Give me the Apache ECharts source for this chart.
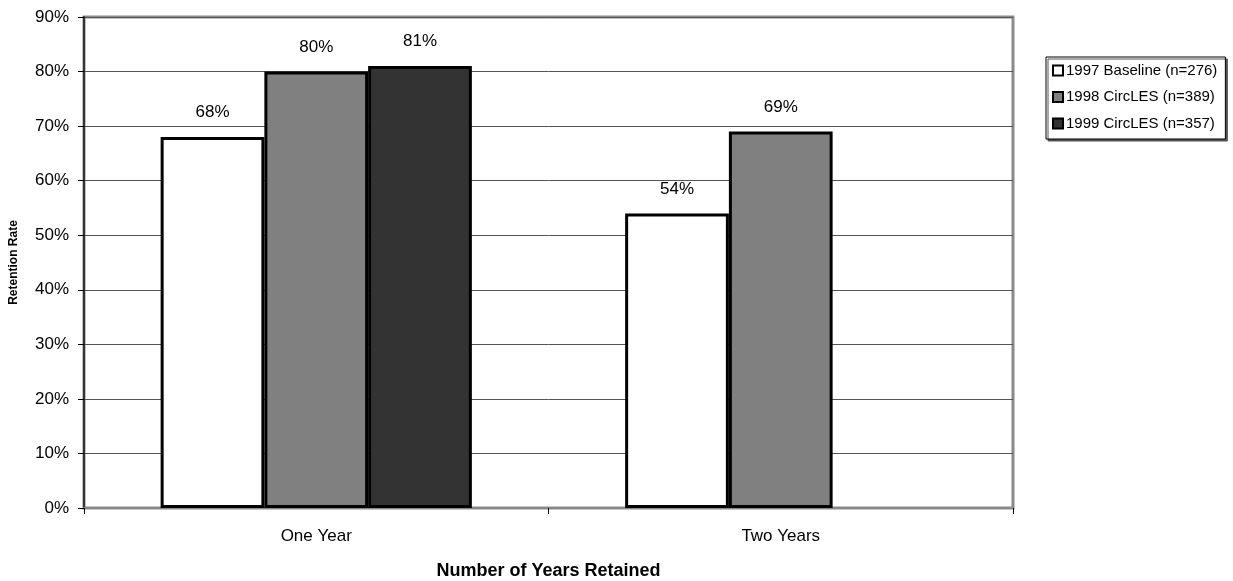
<!DOCTYPE html>
<html>
<head>
<meta charset="utf-8">
<script src="https://cdn.jsdelivr.net/npm/echarts@6/dist/echarts.min.js"></script>
<style>
  html, body { margin: 0; padding: 0; background: #fff; }
  #chart { width: 1233px; height: 581px; }
</style>
</head>
<body>
<div id="chart"></div>
<script>
// Retention rate by number of years retained, per cohort
const categories = ['One Year', 'Two Years'];
const seriesNames = ['1997 Baseline (n=276)', '1998 CircLES (n=389)', '1999 CircLES (n=357)'];
const baseline1997 = [68, 54];
const circles1998 = [80, 69];
const circles1999 = [81, null];
const yTicks = [0, 10, 20, 30, 40, 50, 60, 70, 80, 90];

const FONT = '"Liberation Sans", Arial, sans-serif';
const fills = ['#ffffff', '#808080', '#333333'];
const values = [baseline1997, circles1998, circles1999];

const chart = echarts.init(document.getElementById('chart'), null, { renderer: 'canvas' });

chart.setOption({
  animation: false,
  backgroundColor: '#ffffff',
  textStyle: { fontFamily: FONT },
  grid: {
    left: 84, right: 220, top: 17, bottom: 73,
    outerBoundsMode: 'none',
    containLabel: false,
    show: true,
    borderColor: '#8a8a8a',
    borderWidth: 3,
    backgroundColor: 'transparent'
  },
  legend: {
    orient: 'vertical',
    left: 1046,
    top: 57,
    padding: [6, 8, 8, 6],
    itemGap: 11.5,
    itemWidth: 10,
    itemHeight: 10,
    icon: 'rect',
    backgroundColor: '#ffffff',
    borderColor: '#000000',
    borderWidth: 1,
    borderRadius: 0,
    shadowColor: '#555555',
    shadowOffsetX: 2,
    shadowOffsetY: 2,
    shadowBlur: 0,
    textStyle: { fontFamily: FONT, fontSize: 15, color: '#000', padding: [0, 0, 0, -2] },
    data: seriesNames
  },
  xAxis: {
    type: 'category',
    data: categories,
    boundaryGap: true,
    name: 'Number of Years Retained',
    nameLocation: 'middle',
    nameGap: 54,
    nameTextStyle: { fontFamily: FONT, fontSize: 18, fontWeight: 'bold', color: '#000' },
    axisLine: { show: true, lineStyle: { color: '#8a8a8a', width: 2 } },
    axisTick: { show: true, alignWithLabel: false, length: 6, lineStyle: { color: '#000', width: 1 } },
    axisLabel: { fontFamily: FONT, fontSize: 17, color: '#000', margin: 20 },
    splitLine: { show: false }
  },
  yAxis: {
    type: 'value',
    min: 0,
    max: 90,
    interval: 10,
    name: 'Retention Rate',
    nameLocation: 'middle',
    nameGap: 64,
    nameRotate: 90,
    nameTextStyle: { fontFamily: FONT, fontSize: 12, fontWeight: 'bold', color: '#000' },
    axisLine: { show: true, lineStyle: { color: '#333', width: 2 } },
    axisTick: { show: true, inside: false, length: 6, lineStyle: { color: '#000', width: 1 } },
    axisLabel: {
      fontFamily: FONT, fontSize: 17, color: '#000', margin: 15,
      formatter: v => (yTicks.includes(v) ? v + '%' : '')
    },
    splitLine: { show: true, lineStyle: { color: '#555555', width: 1 } }
  },
  series: seriesNames.map((name, i) => ({
    name,
    type: 'bar',
    data: values[i],
    barGap: '0%',
    barCategoryGap: '33%',
    itemStyle: { color: fills[i], borderColor: '#000', borderWidth: 3 },
    emphasis: { disabled: true },
    label: {
      show: true,
      position: 'top',
      distance: 16,
      fontFamily: FONT,
      fontSize: 17,
      color: '#000',
      formatter: p => (p.value == null ? '' : p.value + '%')
    }
  }))
});
</script>
</body>
</html>
